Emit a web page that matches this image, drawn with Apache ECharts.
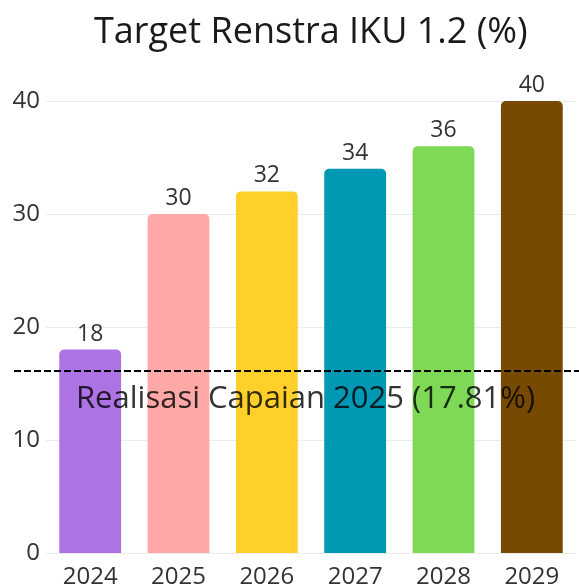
<!DOCTYPE html>
<html>
<head>
<meta charset="utf-8">
<script src="https://cdn.jsdelivr.net/npm/echarts@6/dist/echarts.min.js"></script>
<style>
  html, body { margin: 0; padding: 0; background: #fff; }
  #chart { width: 579px; height: 585px; }
</style>
</head>
<body>
<div id="chart"></div>
<script>
// data
const years = ['2024', '2025', '2026', '2027', '2028', '2029']
const targets = [18, 30, 32, 34, 36, 40]
const barColors = ['#ad72e4', '#ffa8a8', '#ffd02a', '#0098b3', '#7ed957', '#774a02']
const yTicks = [0, 10, 20, 30, 40]
// dashed reference line as drawn in the picture, with its label
const realisasiLine = 16.1
const realisasiText = 'Realisasi Capaian 2025 (17.81%)'

const font = 'Open Sans'

const chart = echarts.init(document.getElementById('chart'))

const option = {
  animation: false,
  title: {
    text: 'Target Renstra IKU 1.2 (%)',
    left: 89,
    top: 10,
    textStyle: { fontFamily: font, fontSize: 36, fontWeight: 'normal', color: '#1a1a1a' }
  },
  grid: [
    { left: 46, right: 3, top: 101, bottom: 32, outerBoundsMode: 'none' },
    // wider grid only for the dashed line, which runs past the bars
    { left: 14, right: 0, top: 101, bottom: 32, outerBoundsMode: 'none' }
  ],
  xAxis: [
    {
      type: 'category',
      data: years,
      gridIndex: 0,
      axisLine: { show: false },
      axisTick: { show: false },
      axisLabel: { fontFamily: font, fontSize: 24, color: '#333', margin: 12 }
    },
    { type: 'value', gridIndex: 1, min: 0, max: 1, show: false }
  ],
  yAxis: [
    {
      type: 'value',
      gridIndex: 0,
      min: yTicks[0],
      max: yTicks[yTicks.length - 1],
      interval: 10,
      axisLine: { show: false },
      axisTick: { show: false },
      splitLine: { lineStyle: { color: '#ececec', width: 1 } },
      axisLabel: { fontFamily: font, fontSize: 24, color: '#333', margin: 6 }
    },
    { type: 'value', gridIndex: 1, min: yTicks[0], max: yTicks[yTicks.length - 1], show: false }
  ],
  series: [
    {
      type: 'bar',
      xAxisIndex: 0,
      yAxisIndex: 0,
      barWidth: '70%',
      data: targets.map((v, i) => ({ value: v, itemStyle: { color: barColors[i] } })),
      itemStyle: { borderRadius: [5, 5, 0, 0] },
      label: {
        show: true,
        position: 'top',
        distance: 4,
        fontFamily: font,
        fontSize: 23,
        color: '#333'
      }
    },
    {
      type: 'line',
      xAxisIndex: 1,
      yAxisIndex: 1,
      data: [],
      z: 5,
      markLine: {
        silent: true,
        symbol: 'none',
        data: [{ yAxis: realisasiLine }],
        lineStyle: { type: [7, 3], color: '#000', width: 2 },
        label: {
          show: true,
          formatter: realisasiText,
          position: 'insideMiddleBottom',
          distance: 13,
          padding: [0, 0, 0, 18],
          fontFamily: font,
          fontSize: 31,
          color: 'rgba(0,0,0,0.8)'
        }
      }
    }
  ]
}

chart.setOption(option)
</script>
</body>
</html>
